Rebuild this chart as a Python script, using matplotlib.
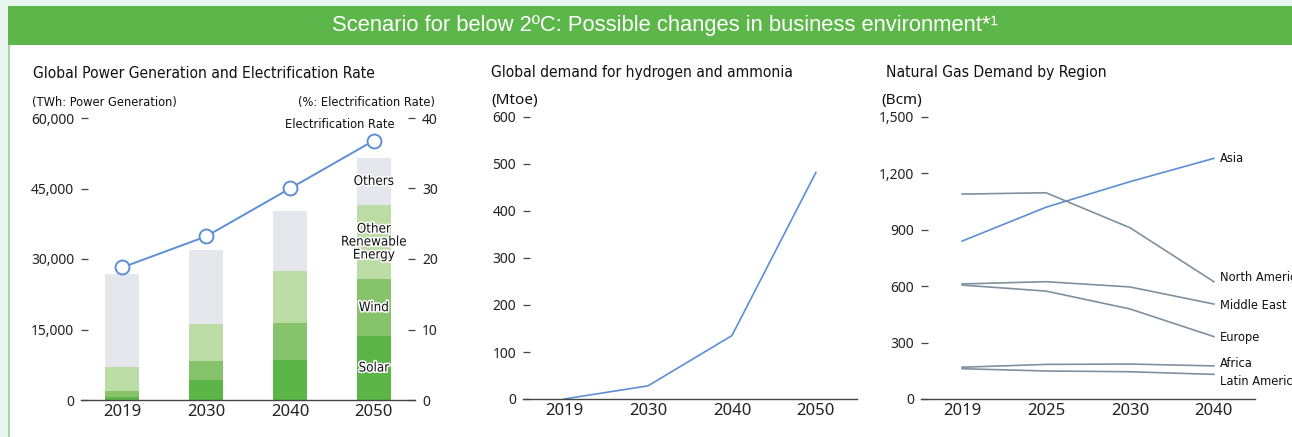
import matplotlib
matplotlib.use("Agg")
import matplotlib.pyplot as plt
import matplotlib.patheffects as pe
from matplotlib.patches import Rectangle
from matplotlib import font_manager

# ---- data ----
power_years = ["2019", "2030", "2040", "2050"]
solar = [700, 4300, 8500, 13600]
wind = [1200, 4000, 7900, 12100]
other_renewable = [5200, 7900, 11000, 15800]
others = [19700, 15700, 12800, 10000]
electrification_rate = [18.8, 23.2, 30.0, 36.8]

h2_years = ["2019", "2030", "2040", "2050"]
h2_demand = [0, 28, 135, 482]

gas_years = ["2019", "2025", "2030", "2040"]
gas_regions = ["Asia", "North America", "Middle East", "Europe", "Africa", "Latin America"]
gas_asia = [840, 1020, 1156, 1280]
gas_north_america = [1090, 1097, 911, 624]
gas_middle_east = [612, 624, 596, 505]
gas_europe = [606, 574, 479, 332]
gas_africa = [169, 184, 186, 176]
gas_latin_america = [161, 149, 145, 131]

# ---- fonts: the original labels use a condensed face ----
narrow_name, narrow_stretch, nscale = "Liberation Sans", "normal", 0.9
for f in font_manager.fontManager.ttflist:
    if "Narrow" in f.name or "Condensed" in f.name:
        narrow_name, narrow_stretch, nscale = f.name, f.stretch, 1.0
        break
    if f.stretch in ("condensed", "semi-condensed") and f.style == "normal":
        narrow_name, narrow_stretch, nscale = f.name, f.stretch, 1.0
        break
NARROW = dict(family=[narrow_name, "DejaVu Sans"], stretch=narrow_stretch)


def ns(size):
    return size * nscale


plt.rcParams["font.family"] = ["Noto Sans", "DejaVu Sans"]

GREEN = "#5cb64a"
LIGHT_BG = "#e7f4ef"
C_SOLAR = "#5cb547"
C_WIND = "#86c36a"
C_OTHER_RE = "#bcdca6"
C_OTHERS = "#e6e7ec"
BLUE = "#5d8fd5"
GRAY = "#7f919d"
AXCOL = "#444444"
TXT = "#111111"

W, H = 1292, 437
fig = plt.figure(figsize=(W / 100, H / 100), dpi=100)
fig.patch.set_facecolor("white")

# background frame + banner
fig.add_artist(Rectangle((0, 1 - 6 / H), 1, 6 / H, transform=fig.transFigure, color=LIGHT_BG, lw=0))
fig.add_artist(Rectangle((0, 0), 8 / W, 1, transform=fig.transFigure, color=LIGHT_BG, lw=0))
fig.add_artist(Rectangle((8 / W, 0), 2 / W, 1 - 45 / H, transform=fig.transFigure, color="#a8d89e", lw=0))
fig.add_artist(Rectangle((8 / W, 1 - 45 / H), 1, 39 / H, transform=fig.transFigure, color=GREEN, lw=0))
fig.text(665 / W, 1 - 25.5 / H, "Scenario for below 2ºC: Possible changes in business environment*¹",
         ha="center", va="center", color="white", fontsize=15.8, family=["Liberation Sans", "DejaVu Sans"])


def make_axes(x0, x1, ytop, ybot):
    ax = fig.add_axes([x0 / W, 1 - ybot / H, (x1 - x0) / W, (ybot - ytop) / H])
    ax.set_facecolor("none")
    for s in ["top", "right", "left"]:
        ax.spines[s].set_visible(False)
    ax.spines["bottom"].set_color(AXCOL)
    ax.spines["bottom"].set_linewidth(1.0)
    ax.set_xlim(-0.49, 3.49)
    ax.tick_params(axis="x", length=0, pad=3, labelsize=12, colors="#222222")
    ax.tick_params(axis="y", direction="in", length=5, width=0.9, pad=5, labelsize=10,
                   color=AXCOL, labelcolor="#222222")
    return ax


def head(x, title):
    fig.text(x / W, 1 - 77.5 / H, title, ha="left", va="baseline", fontsize=ns(11.2), color=TXT, **NARROW)


# ---- chart 1 ----
ax1 = make_axes(81, 415, 118, 400)
xs = range(len(power_years))
bw = 0.405
b = [0] * 4
for vals, col in [(solar, C_SOLAR), (wind, C_WIND), (other_renewable, C_OTHER_RE), (others, C_OTHERS)]:
    ax1.bar(xs, vals, bw, bottom=b, color=col, lw=0)
    b = [bb + v for bb, v in zip(b, vals)]
ax1.set_ylim(0, 60000)
ax1.set_yticks([0, 15000, 30000, 45000, 60000])
ax1.set_yticklabels(["0", "15,000", "30,000", "45,000", "60,000"])
ax1.set_xticks(list(xs))
ax1.set_xticklabels(power_years)

stroke = [pe.withStroke(linewidth=2.2, foreground="white")]
seg_labels = ["Solar", "Wind", "Other\nRenewable\nEnergy", "Others"]
bottom = 0
for lab, vals in zip(seg_labels, [solar, wind, other_renewable, others]):
    ax1.text(3, bottom + vals[-1] / 2, lab, ha="center", va="center", fontsize=ns(9.6),
             linespacing=1.0, path_effects=stroke, color=TXT, **NARROW)
    bottom += vals[-1]

ax1r = ax1.twinx()
ax1r.set_facecolor("none")
for s in ["top", "right", "left", "bottom"]:
    ax1r.spines[s].set_visible(False)
ax1r.set_ylim(0, 40)
ax1r.set_yticks([0, 10, 20, 30, 40])
ax1r.tick_params(axis="y", direction="in", length=5, width=0.9, pad=5, labelsize=10,
                 color=AXCOL, labelcolor="#222222")
ax1r.plot(list(xs), electrification_rate, color=BLUE, lw=1.4, marker="o", ms=10,
          mfc="white", mec=BLUE, mew=1.4, zorder=5, clip_on=False)
ax1r.annotate("Electrification Rate", xy=(3, electrification_rate[-1]), xytext=(15, 9),
              textcoords="offset points", ha="right", va="baseline", fontsize=ns(9.2), color=TXT, **NARROW)

fig.text(32 / W, 1 - 106 / H, "(TWh: Power Generation)", ha="left", va="baseline", fontsize=ns(9.2),
         color=TXT, **NARROW)
fig.text(435 / W, 1 - 106 / H, "(%: Electrification Rate)", ha="right", va="baseline", fontsize=ns(9.2),
         color=TXT, **NARROW)
head(33, "Global Power Generation and Electrification Rate")

# ---- chart 2 ----
ax2 = make_axes(523, 857, 117, 399)
ax2.plot(range(len(h2_years)), h2_demand, color=BLUE, lw=1.2)
ax2.set_ylim(0, 600)
ax2.set_yticks(range(0, 601, 100))
ax2.set_xticks(range(len(h2_years)))
ax2.set_xticklabels(h2_years)
head(491, "Global demand for hydrogen and ammonia")
fig.text(491 / W, 1 - 104 / H, "(Mtoe)", ha="left", va="baseline", fontsize=11, color=TXT)

# ---- chart 3 ----
ax3 = make_axes(921, 1255, 117, 399)
series = [gas_asia, gas_north_america, gas_middle_east, gas_europe, gas_africa, gas_latin_america]
label_nudge = [0, 3, -1, -1, 2, -5]  # points, to keep labels apart
for name, vals, dy in zip(gas_regions, series, label_nudge):
    col = BLUE if name == "Asia" else GRAY
    ax3.plot(range(len(gas_years)), vals, color=col, lw=1.2)
    ax3.annotate(name, xy=(3, vals[-1]), xytext=(4.5, dy), textcoords="offset points",
                 ha="left", va="center", fontsize=ns(9.2), color=TXT, annotation_clip=False, **NARROW)
ax3.set_ylim(0, 1500)
ax3.set_yticks(range(0, 1501, 300))
ax3.set_yticklabels(["0", "300", "600", "900", "1,200", "1,500"])
ax3.set_xticks(range(len(gas_years)))
ax3.set_xticklabels(gas_years)
head(886, "Natural Gas Demand by Region")
fig.text(881 / W, 1 - 104 / H, "(Bcm)", ha="left", va="baseline", fontsize=11, color=TXT)

fig.savefig("out.png", dpi=100, facecolor=fig.get_facecolor())
